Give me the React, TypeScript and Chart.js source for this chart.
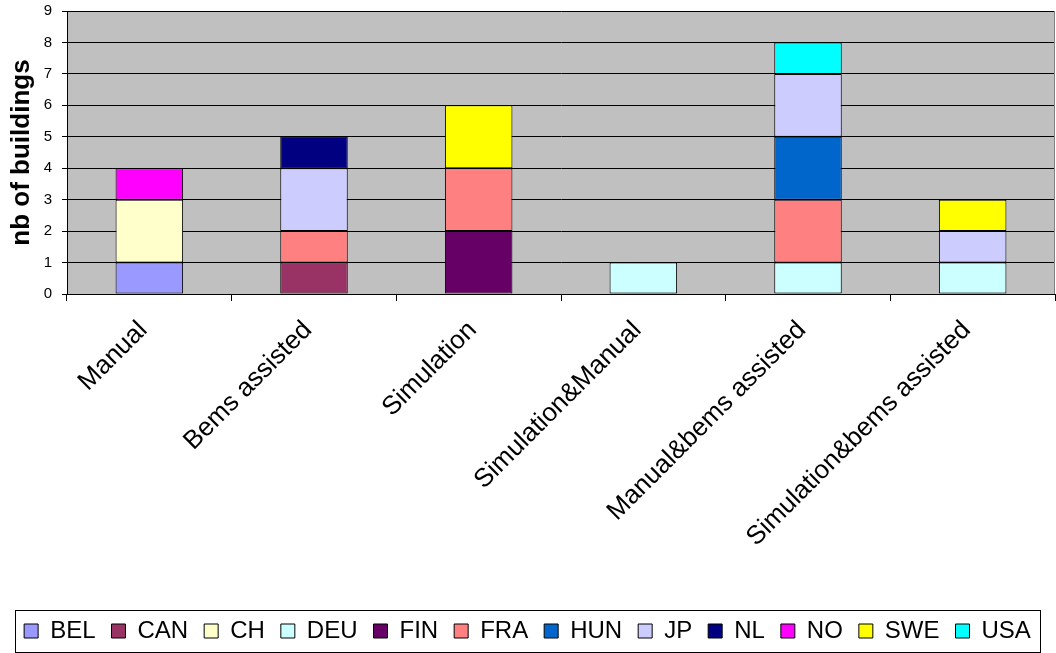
import React, { useEffect, useRef } from "react";
import { Chart, registerables } from "chart.js";

Chart.register(...registerables);

const categories = [
  "Manual",
  "Bems assisted",
  "Simulation",
  "Simulation&Manual",
  "Manual&bems assisted",
  "Simulation&bems assisted",
];

const BEL = [1, null, null, null, null, null];
const CAN = [null, 1, null, null, null, null];
const CH = [2, null, null, null, null, null];
const DEU = [null, null, null, 1, 1, 1];
const FIN = [null, null, 2, null, null, null];
const FRA = [null, 1, 2, null, 2, null];
const HUN = [null, null, null, null, 2, null];
const JP = [null, 2, null, null, 2, 1];
const NL = [null, 1, null, null, null, null];
const NO = [1, null, null, null, null, null];
const SWE = [null, null, 2, null, null, 1];
const USA = [null, null, null, null, 1, null];

const seriesNames = ["BEL", "CAN", "CH", "DEU", "FIN", "FRA", "HUN", "JP", "NL", "NO", "SWE", "USA"];
const seriesValues = [BEL, CAN, CH, DEU, FIN, FRA, HUN, JP, NL, NO, SWE, USA];
const seriesColors = [
  "#9999FF",
  "#993366",
  "#FFFFCC",
  "#CCFFFF",
  "#660066",
  "#FF8080",
  "#0066CC",
  "#CCCCFF",
  "#000080",
  "#FF00FF",
  "#FFFF00",
  "#00FFFF",
];

const yTicks = [0, 1, 2, 3, 4, 5, 6, 7, 8, 9];
const yTitle = "nb of buildings";

const FONT = "'Liberation Sans', Arial, sans-serif";

const W = 1056;
const H = 653;
const PLOT_BOTTOM = 294;

const bgPlugin = {
  id: "plotBg",
  beforeDraw(chart: any) {
    const { ctx, chartArea } = chart;
    ctx.save();
    ctx.fillStyle = "#C0C0C0";
    ctx.fillRect(chartArea.left, chartArea.top, chartArea.right - chartArea.left, chartArea.bottom - chartArea.top);
    ctx.restore();
  },
  afterDraw(chart: any) {
    const { ctx, chartArea } = chart;
    ctx.save();
    ctx.strokeStyle = "#808080";
    ctx.lineWidth = 1;
    ctx.beginPath();
    ctx.moveTo(chartArea.right - 0.5, chartArea.top);
    ctx.lineTo(chartArea.right - 0.5, chartArea.bottom);
    ctx.stroke();
    const lg = chart.legend;
    if (lg && lg.legendHitBoxes && lg.legendHitBoxes.length) {
      let minL = Infinity;
      let maxR = -Infinity;
      let top = Infinity;
      let bottom = -Infinity;
      lg.legendHitBoxes.forEach((hb: any) => {
        minL = Math.min(minL, hb.left);
        maxR = Math.max(maxR, hb.left + hb.width);
        top = Math.min(top, hb.top);
        bottom = Math.max(bottom, hb.top + hb.height);
      });
      const cy = (top + bottom) / 2;
      ctx.strokeStyle = "#000";
      ctx.strokeRect(Math.round(minL - 9) + 0.5, Math.round(cy - 21) + 0.5, Math.round(maxR - minL + 18), 42);
    }
    ctx.restore();
  },
};

export default function App() {
  const canvasRef = useRef<HTMLCanvasElement | null>(null);

  useEffect(() => {
    const canvas = canvasRef.current;
    if (!canvas) return;
    const chart = new Chart(canvas, {
      type: "bar",
      data: {
        labels: categories,
        datasets: seriesNames.map((name, i) => ({
          label: name,
          data: seriesValues[i] as any,
          backgroundColor: seriesColors[i],
          borderColor: "#000",
          borderWidth: 1,
          borderSkipped: false,
          categoryPercentage: 1,
          barPercentage: 0.41,
        })),
      },
      options: {
        responsive: false,
        animation: false,
        devicePixelRatio: 1,
        layout: { padding: { top: 11, right: 1, left: 0, bottom: 0 } },
        plugins: {
          tooltip: { enabled: false },
          legend: {
            position: "bottom",
            labels: {
              boxWidth: 14,
              boxHeight: 14,
              padding: 16,
              color: "#000",
              font: { family: FONT, size: 24 },
            },
          },
        },
        scales: {
          x: {
            stacked: true,
            offset: true,
            grid: {
              display: true,
              drawOnChartArea: false,
              drawTicks: true,
              tickLength: 7,
              color: "#000",
              offset: true,
            },
            border: { color: "#000", width: 1 },
            ticks: {
              color: "#000",
              font: { family: FONT, size: 26 },
              maxRotation: 45,
              minRotation: 45,
              autoSkip: false,
              padding: 14,
              labelOffset: -6,
            },
            afterFit: (s: any) => {
              const lh = s.chart.legend ? s.chart.legend.height : 0;
              s.height = s.chart.height - PLOT_BOTTOM - lh;
              s.paddingLeft = 0;
              s.paddingRight = 0;
            },
          },
          y: {
            stacked: true,
            min: 0,
            max: 9,
            grid: { color: "#000", tickLength: 5, tickColor: "#000" },
            border: { color: "#000", width: 1 },
            afterBuildTicks: (s: any) => {
              s.ticks = yTicks.map((v) => ({ value: v }));
            },
            ticks: {
              color: "#000",
              font: { family: FONT, size: 15 },
              padding: 10,
            },
            title: {
              display: true,
              text: yTitle,
              color: "#000",
              font: { family: FONT, size: 26, weight: "bold" },
              padding: { top: 6, bottom: 0 },
            },
            afterFit: (s: any) => {
              s.width = 67;
              s.paddingTop = 0;
              s.paddingBottom = 0;
            },
          },
        },
      },
      plugins: [bgPlugin],
    });
    return () => chart.destroy();
  }, []);

  return (
    <div style={{ position: "fixed", left: 0, top: 0, width: W, height: H, background: "#fff" }}>
      <canvas ref={canvasRef} width={W} height={H} style={{ width: W, height: H, display: "block" }} />
    </div>
  );
}
